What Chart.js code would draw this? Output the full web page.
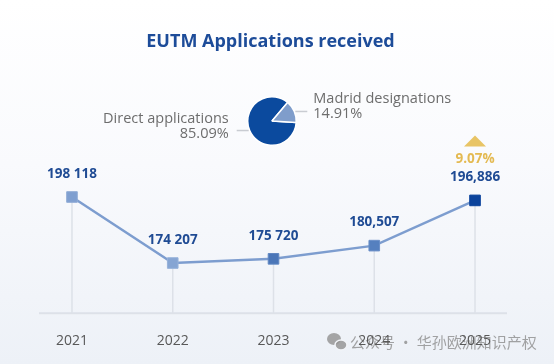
<!DOCTYPE html>
<html>
<head>
<meta charset="utf-8">
<script src="https://cdn.jsdelivr.net/npm/chart.js@4.4.1/dist/chart.umd.min.js"></script>
<style>
  html, body { margin: 0; padding: 0; }
  body {
    width: 554px; height: 364px; overflow: hidden;
    background: linear-gradient(to bottom, #ffffff 0%, #f9fafd 45%, #edf1f7 100%);
  }
  #wrap { position: relative; width: 554px; height: 364px; }
  #lineChart { position: absolute; left: 0; top: 0; }
  #pieChart { position: absolute; left: 90px; top: 80px; pointer-events: none; }
</style>
</head>
<body>
<div id="wrap">
  <canvas id="lineChart" width="554" height="364"></canvas>
  <canvas id="pieChart" width="380" height="80"></canvas>
</div>
<script>
// data
const chartTitle = 'EUTM Applications received';
const years = ['2021', '2022', '2023', '2024', '2025'];
const applications = [198118, 174207, 175720, 180507, 196886];
const valueLabels = ['198 118', '174 207', '175 720', '180,507', '196,886'];
const growthLabel = '9.07%';
const pieCategories = ['Direct applications', 'Madrid designations'];
const pieShares = [85.09, 14.91];
const watermarkText = '公众号 · 华孙欧洲知识产权';

const FONT = "'Open Sans', 'Noto Sans', sans-serif";
const blue = '#1f4b94';

// watermark behind everything
const watermarkPlugin = {
    id: 'watermark',
    beforeDraw(chart) {
        const ctx = chart.ctx;
        ctx.save();
        // wechat icon
        ctx.fillStyle = 'rgba(150,150,150,0.85)';
        ctx.beginPath();
        ctx.ellipse(334, 339, 7, 6, 0, 0, Math.PI * 2);
        ctx.fill();
        ctx.strokeStyle = '#f2f4f8';
        ctx.lineWidth = 1.5;
        ctx.beginPath();
        ctx.ellipse(341, 345, 6, 5, 0, 0, Math.PI * 2);
        ctx.fill();
        ctx.stroke();
        ctx.font = "15px 'Noto Sans CJK SC', sans-serif";
        ctx.fillStyle = 'rgba(140,140,140,0.8)';
        ctx.textAlign = 'left';
        ctx.textBaseline = 'middle';
        ctx.fillText(watermarkText, 350, 342);
        ctx.restore();
    }
};

// vertical drop lines and the base line
const dropLinePlugin = {
    id: 'dropLines',
    beforeDatasetsDraw(chart) {
        const ctx = chart.ctx;
        const area = chart.chartArea;
        const pts = chart.getDatasetMeta(0).data;
        ctx.save();
        ctx.strokeStyle = '#dde1e8';
        ctx.lineWidth = 1.5;
        pts.forEach(p => {
            ctx.beginPath();
            ctx.moveTo(p.x, p.y);
            ctx.lineTo(p.x, area.bottom);
            ctx.stroke();
        });
        ctx.lineWidth = 2;
        ctx.beginPath();
        ctx.moveTo(pts[0].x - 33, area.bottom);
        ctx.lineTo(pts[pts.length - 1].x + 32, area.bottom);
        ctx.stroke();
        ctx.restore();
    }
};

// value labels, growth marker and title
const labelPlugin = {
    id: 'valueLabels',
    afterDatasetsDraw(chart) {
        const ctx = chart.ctx;
        const pts = chart.getDatasetMeta(0).data;
        ctx.save();
        ctx.textAlign = 'center';
        ctx.textBaseline = 'middle';
        ctx.font = 'bold 13.5px ' + FONT;
        ctx.fillStyle = blue;
        pts.forEach((p, i) => {
            ctx.fillText(valueLabels[i], p.x, p.y - 23);
        });

        // growth on last point
        const last = pts[pts.length - 1];
        ctx.fillStyle = '#e4ba52';
        ctx.fillText(growthLabel, last.x, last.y - 41);
        ctx.fillStyle = '#e8c465';
        ctx.beginPath();
        ctx.moveTo(last.x, last.y - 65);
        ctx.lineTo(last.x + 11, last.y - 54);
        ctx.lineTo(last.x - 11, last.y - 54);
        ctx.closePath();
        ctx.fill();

        ctx.font = 'bold 18px ' + FONT;
        ctx.fillStyle = '#1d4c99';
        ctx.fillText(chartTitle, chart.width / 2 - 6.5, 42);
        ctx.restore();
    }
};

new Chart(document.getElementById('lineChart'), {
    type: 'line',
    data: {
        labels: years,
        datasets: [{
            data: applications,
            borderColor: '#7d9dcf',
            borderWidth: 2.5,
            tension: 0,
            pointStyle: 'rect',
            pointRadius: 7.5,
            pointBorderWidth: 1,
            pointBackgroundColor: ['#7f9fd0', '#86a5d3', '#4b76b8', '#5580bf', '#0b439c'],
            pointBorderColor: ['#90acd6', '#97b2da', '#6087c2', '#6a8fc8', '#0b439c'],
            clip: false
        }]
    },
    options: {
        responsive: false,
        animation: false,
        layout: {
            autoPadding: false,
            padding: { left: 21.6, right: 28.6, top: 92.4, bottom: 14.6 }
        },
        plugins: {
            legend: { display: false },
            tooltip: { enabled: false }
        },
        scales: {
            x: {
                offset: true,
                grid: { display: false, drawTicks: false },
                border: { display: false },
                ticks: { padding: 19.3, color: '#585858', font: { family: FONT, size: 14 } },
                afterFit(scale) { scale.height = 36.1; }
            },
            y: { display: false, min: 156000, max: 236000 }
        }
    },
    plugins: [watermarkPlugin, dropLinePlugin, labelPlugin]
});

// pie with side labels
const pieLabelPlugin = {
    id: 'pieLabels',
    afterDraw(chart) {
        const ctx = chart.ctx;
        const arcs = chart.getDatasetMeta(0).data;
        ctx.save();
        ctx.font = '14.5px ' + FONT;
        ctx.textBaseline = 'middle';
        arcs.forEach((a, i) => {
            const mid = (a.startAngle + a.endAngle) / 2;
            const ex = a.x + Math.cos(mid) * a.outerRadius;
            const ey = a.y + Math.sin(mid) * a.outerRadius;
            const dir = Math.cos(mid) >= 0 ? 1 : -1;
            ctx.strokeStyle = '#c9ccd2';
            ctx.lineWidth = 1.5;
            ctx.beginPath();
            ctx.moveTo(ex + dir * 1, ey);
            ctx.lineTo(ex + dir * 13, ey);
            ctx.stroke();
            const tx = ex + dir * (dir > 0 ? 19 : 21);
            const ty = dir > 0 ? ey + 2 : ey + 3;
            ctx.textAlign = dir > 0 ? 'left' : 'right';
            ctx.fillStyle = '#6d6d6d';
            ctx.fillText(pieCategories[i], tx, ty - 15);
            ctx.fillText(pieShares[i].toFixed(2) + '%', tx, ty);
        });
        ctx.restore();
    }
};

new Chart(document.getElementById('pieChart'), {
    type: 'pie',
    data: {
        labels: pieCategories,
        datasets: [{
            data: pieShares,
            backgroundColor: ['#0b4a9e', '#7f9dcb'],
            borderColor: '#ffffff',
            borderWidth: 1.5
        }]
    },
    options: {
        responsive: false,
        animation: false,
        rotation: 93.7,
        layout: { padding: { left: 157, right: 173, top: 16, bottom: 14 } },
        plugins: {
            legend: { display: false },
            tooltip: { enabled: false }
        }
    },
    plugins: [pieLabelPlugin]
});
</script>
</body>
</html>
